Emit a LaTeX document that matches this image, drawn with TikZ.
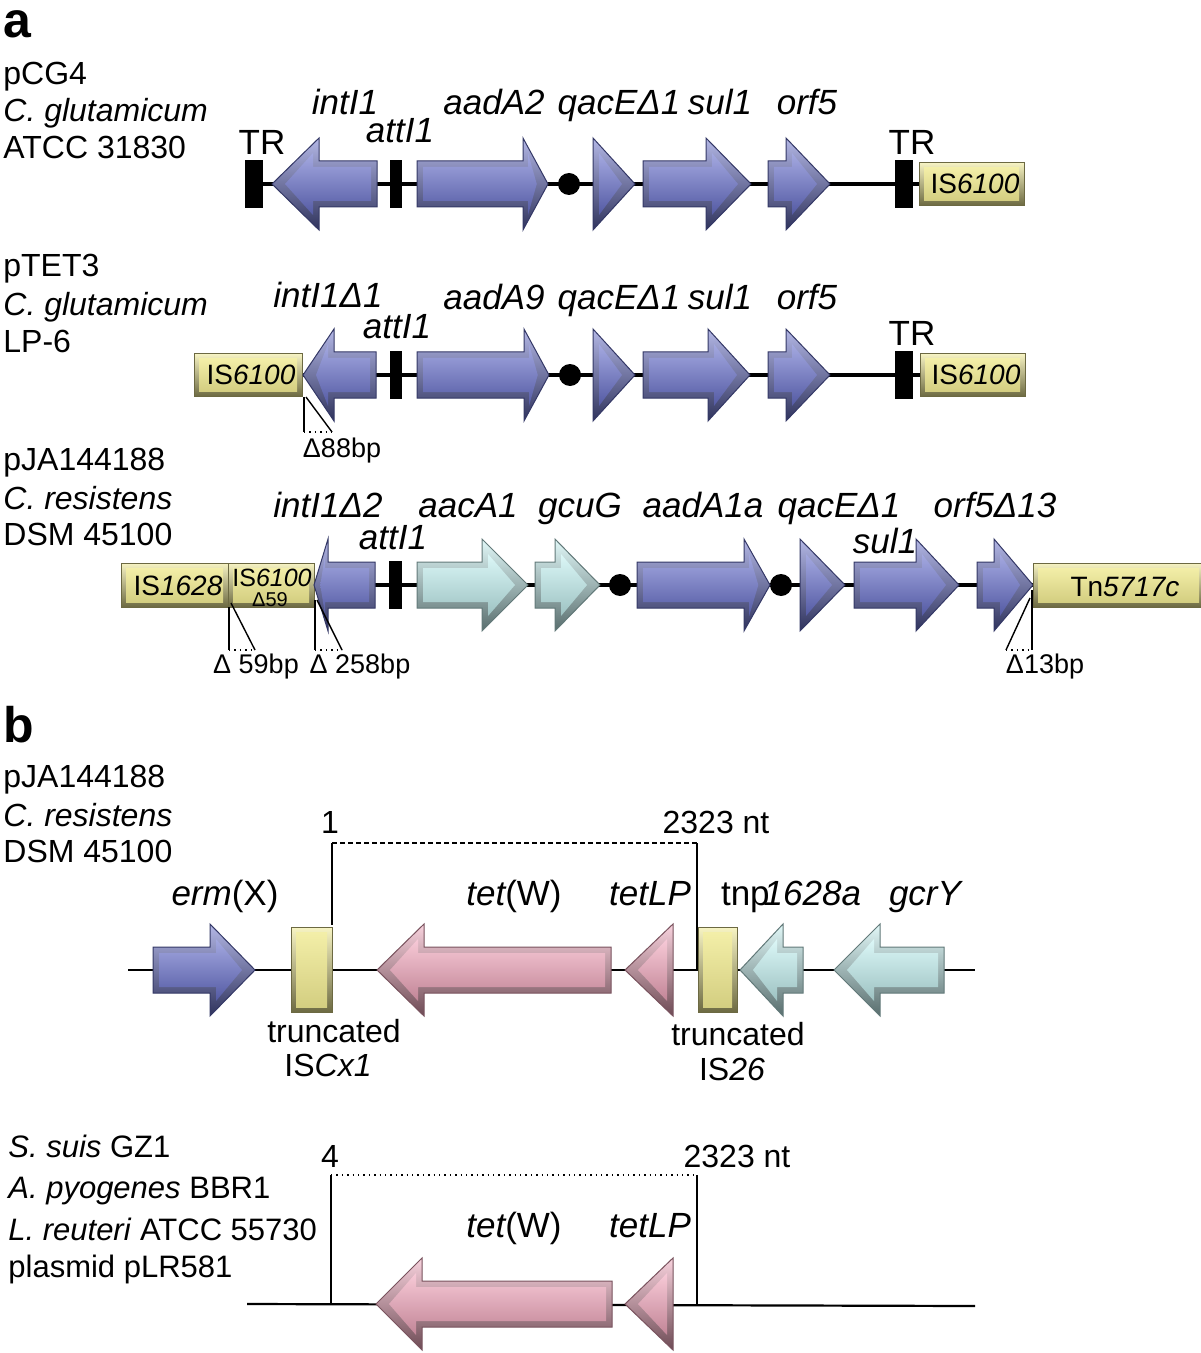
\documentclass[tikz,border=0pt]{standalone}
\usepackage{fontspec}
\setmainfont{Liberation Sans}

\definecolor{genblau}{RGB}{104,112,204}
\definecolor{gencyan}{RGB}{196,242,242}
\definecolor{genrosa}{RGB}{242,166,188}
\definecolor{isgelb}{RGB}{240,234,146}

\tikzstyle{txt}=[inner sep=0pt, anchor=base west, font=\fontsize{16}{19}\selectfont]
\tikzstyle{lbl}=[inner sep=0pt, anchor=base, font=\fontsize{17.5}{20}\selectfont]
\tikzstyle{genname}=[inner sep=0pt, anchor=base, font=\fontsize{17.5}{20}\selectfont\itshape]
\tikzstyle{klein}=[inner sep=0pt, anchor=base, font=\fontsize{13.5}{16}\selectfont]
\tikzstyle{istext}=[inner sep=0pt, anchor=base, font=\fontsize{14}{16}\selectfont]
\tikzstyle{rueckgrat}=[line width=2pt]
\tikzstyle{linie}=[line width=1.1pt]
\tikzstyle{strich}=[line width=0.7pt]

% Genpfeil: Anfang, Kopfansatz, Spitze, y, Farbe
\newcommand{\genpfeil}[5]{%
  \pgfmathsetmacro{\ri}{(#3>#1) ? 1 : -1}%
  \pgfmathsetmacro{\kl}{abs(#3-#2)}%
  \pgfmathsetmacro{\ts}{min(13,0.45*\kl)}%
  \pgfmathsetmacro{\bs}{min(6,0.2*\kl)}%
  \path[draw=#5!50!black, line width=0.5pt, top color=#5!50!white, bottom color=#5!45!black]
    (#1,#4-23) -- (#2,#4-23) -- (#2,#4-46) -- (#3,#4) -- (#2,#4+46) -- (#2,#4+23) -- (#1,#4+23) -- cycle;
  \path[top color=#5!60!white, middle color=#5, bottom color=#5!80!black]
    ({#1+6*\ri},#4-17) -- ({#2+\bs*\ri},#4-17) -- ({#2+\bs*\ri},#4-31) -- ({#3-\ts*\ri},#4)
    -- ({#2+\bs*\ri},#4+31) -- ({#2+\bs*\ri},#4+17) -- ({#1+6*\ri},#4+17) -- cycle;
}
% Kasten: links, rechts, y, halbe Hoehe, Farbe
\newcommand{\kasten}[5]{%
  \path[draw=#5!45!black, line width=0.5pt, top color=#5!55!white, bottom color=#5!45!black]
    (#1,#3-#4) rectangle (#2,#3+#4);
  \path[top color=#5!80!white, middle color=#5, bottom color=#5!88!black]
    (#1+5,#3-#4+5) rectangle (#2-5,#3+#4-5);
}
\newcommand{\balken}[3]{\fill (#1,#3-24) rectangle (#2,#3+24);}
\newcommand{\punkt}[2]{\fill (#1,#2) circle[radius=5.5pt];}

\begin{document}
\begin{tikzpicture}[x=0.5pt, y=-0.5pt]
	\useasboundingbox (0,0) rectangle (1200,1353);

	% Teil a
	\node[txt, font=\fontsize{25}{28}\selectfont\bfseries] (ta) at (3,38) {a};

	% Reihe pCG4
	\node[txt] (pcg) at (3,85) {pCG4};
	\node[txt] (pcgart) at (3,122) {\itshape C. glutamicum};
	\node[txt] (pcgstamm) at (3,159) {ATCC 31830};

	\coordinate (r1a) at (254,184);
	\coordinate (r1b) at (1000,184);
	\draw[rueckgrat] (r1a) -- (r1b);
	\balken{245}{263}{184}
	\genpfeil{377}{319}{272}{184}{genblau}
	\balken{390}{402}{184}
	\genpfeil{417}{523}{548}{184}{genblau}
	\punkt{569}{184}
	\genpfeil{593}{593}{635}{184}{genblau}
	\genpfeil{643}{706}{751}{184}{genblau}
	\genpfeil{768}{786}{830}{184}{genblau}
	\balken{895}{913}{184}
	\kasten{919}{1024}{184}{21.5}{isgelb}
	\node[istext] (is1) at (975,194) {IS\textit{6100}};

	\node[lbl] (tr1) at (262,155) {TR};
	\node[genname] (int1) at (345,115) {intI1};
	\node[genname] (att1) at (400,143) {attI1};
	\node[genname] (aad1) at (494,115) {aadA2};
	\node[genname] (qac1) at (619,115) {qacEΔ1};
	\node[genname] (sul1) at (720,115) {sul1};
	\node[genname] (orf1) at (807,115) {orf5};
	\node[lbl] (tr2) at (912,155) {TR};

	% Reihe pTET3
	\node[txt] (ptet) at (3,277) {pTET3};
	\node[txt] (ptetart) at (3,316) {\itshape C. glutamicum};
	\node[txt] (ptetstamm) at (3,352) {LP-6};

	\coordinate (r2a) at (300,375);
	\coordinate (r2b) at (921,375);
	\draw[rueckgrat] (r2a) -- (r2b);
	\kasten{194}{302}{375}{21.5}{isgelb}
	\node[istext] (is2) at (251,385) {IS\textit{6100}};
	\genpfeil{376}{334}{303}{375}{genblau}
	\balken{390}{402}{375}
	\genpfeil{417}{524}{549}{375}{genblau}
	\punkt{570}{375}
	\genpfeil{593}{593}{635}{375}{genblau}
	\genpfeil{643}{708}{750}{375}{genblau}
	\genpfeil{768}{786}{830}{375}{genblau}
	\balken{895}{913}{375}
	\kasten{920}{1025}{375}{21.5}{isgelb}
	\node[istext] (is3) at (976,385) {IS\textit{6100}};

	\node[genname] (int2) at (328,308) {intI1Δ1};
	\node[genname] (att2) at (397,338) {attI1};
	\node[genname] (aad2) at (494,310) {aadA9};
	\node[genname] (qac2) at (619,310) {qacEΔ1};
	\node[genname] (sul2) at (720,310) {sul1};
	\node[genname] (orf2) at (807,310) {orf5};
	\node[lbl] (tr3) at (912,345) {TR};

	\coordinate (d88a) at (304,397);
	\coordinate (d88b) at (304,432);
	\coordinate (d88c) at (306,397);
	\coordinate (d88d) at (332,432);
	\draw[strich] (d88a) -- (d88b);
	\draw[strich] (d88c) -- (d88d);
	\draw[strich, dotted] (d88b) -- (d88d);
	\node[klein] (d88) at (342,457) {Δ88bp};

	% Reihe pJA144188
	\node[txt] (pja) at (3,470) {pJA144188};
	\node[txt] (pjaart) at (3,509) {\itshape C. resistens};
	\node[txt] (pjastamm) at (3,545) {DSM 45100};

	\coordinate (r3a) at (228,585);
	\coordinate (r3b) at (1034,585);
	\draw[rueckgrat] (r3a) -- (r3b);
	\kasten{121}{228}{585}{22}{isgelb}
	\node[istext] (is4) at (178,595) {IS\textit{1628}};
	\kasten{228}{314}{585}{22}{isgelb}
	\node[inner sep=0pt, anchor=base, font=\fontsize{12.5}{14}\selectfont] (is5) at (272,586) {IS\textit{6100}};
	\node[inner sep=0pt, anchor=base, font=\fontsize{10}{12}\selectfont] (is5d) at (270,606) {Δ59};
	\genpfeil{375}{328}{314}{585}{genblau}
	\balken{389}{402}{585}
	\genpfeil{417}{482}{528}{585}{gencyan}
	\genpfeil{535}{555}{600}{585}{gencyan}
	\punkt{620}{585}
	\punkt{781}{585}
	\genpfeil{637}{744}{770}{585}{genblau}
	\genpfeil{800}{800}{845}{585}{genblau}
	\genpfeil{854}{916}{959}{585}{genblau}
	\genpfeil{977}{994}{1033}{585}{genblau}
	\kasten{1033}{1204}{585}{22}{isgelb}
	\node[istext] (tn) at (1125,596) {Tn\textit{5717c}};

	\node[genname] (int3) at (328,517) {intI1Δ2};
	\node[genname] (att3) at (393,549) {attI1};
	\node[genname] (aac3) at (468,517) {aacA1};
	\node[genname] (gcu3) at (580,517) {gcuG};
	\node[genname] (aad3) at (703,517) {aadA1a};
	\node[genname] (qac3) at (839,517) {qacEΔ1};
	\node[genname] (sul3) at (885,553) {sul1};
	\node[genname] (orf3) at (995,517) {orf5Δ13};

	\coordinate (d59a) at (229,607);
	\coordinate (d59b) at (229,650);
	\coordinate (d59c) at (231,603);
	\coordinate (d59d) at (255,650);
	\draw[strich] (d59a) -- (d59b);
	\draw[strich] (d59c) -- (d59d);
	\draw[strich, dotted] (d59b) -- (d59d);
	\node[klein] (d59) at (256,673) {Δ 59bp};

	\coordinate (d258a) at (315,600);
	\coordinate (d258b) at (315,650);
	\coordinate (d258c) at (317,600);
	\coordinate (d258d) at (342,650);
	\draw[strich] (d258a) -- (d258b);
	\draw[strich] (d258c) -- (d258d);
	\draw[strich, dotted] (d258b) -- (d258d);
	\node[klein] (d258) at (360,673) {Δ 258bp};

	\coordinate (d13a) at (1032,590);
	\coordinate (d13b) at (1032,650);
	\coordinate (d13c) at (1030,598);
	\coordinate (d13d) at (1006,650);
	\draw[strich] (d13a) -- (d13b);
	\draw[strich] (d13c) -- (d13d);
	\draw[strich, dotted] (d13d) -- (d13b);
	\node[klein] (d13) at (1045,673) {Δ13bp};

	% Teil b
	\node[txt, font=\fontsize{25}{28}\selectfont\bfseries] (tb) at (3,742) {b};
	\node[txt] (pjb) at (3,787) {pJA144188};
	\node[txt] (pjbart) at (3,826) {\itshape C. resistens};
	\node[txt] (pjbstamm) at (3,862) {DSM 45100};

	\node[txt, anchor=base] (n1) at (330,833) {1};
	\node[txt, anchor=base] (n2323) at (716,833) {2323 nt};
	\coordinate (o1) at (332,843);
	\coordinate (o2) at (697,843);
	\coordinate (u1) at (332,925);
	\coordinate (u2) at (697,970);
	\draw[strich, dash pattern=on 2.5pt off 1.5pt] (o1) -- (o2);
	\draw[linie, line width=0.9pt] (o1) -- (u1);
	\draw[linie, line width=0.9pt] (o2) -- (u2);

	\coordinate (r4a) at (128,970);
	\coordinate (r4b) at (975,970);
	\draw[linie] (r4a) -- (r4b);
	\genpfeil{153}{210}{255}{970}{genblau}
	\kasten{291}{332}{970}{42.5}{isgelb}
	\genpfeil{611}{424}{377}{970}{genrosa}
	\genpfeil{673}{673}{625}{970}{genrosa}
	\kasten{698}{737}{970}{42.5}{isgelb}
	\genpfeil{803}{783}{740}{970}{gencyan}
	\genpfeil{944}{880}{834}{970}{gencyan}

	\node[genname] (erm) at (225,905) {erm\upshape(X)};
	\node[genname] (tetw) at (514,905) {tet\upshape(W)};
	\node[genname] (tetlp) at (650,905) {tetLP};
	\node[lbl] (tnp) at (791,905) {tnp\kern-3pt\textit{1628a}};
	\node[genname] (gcr) at (925,905) {gcrY};
	\node[txt, anchor=base] (trunc1) at (334,1042) {truncated};
	\node[txt, anchor=base] (iscx) at (328,1076) {IS\textit{Cx1}};
	\node[txt, anchor=base] (trunc2) at (738,1045) {truncated};
	\node[txt, anchor=base] (is26) at (732,1080) {IS\textit{26}};

	% Vergleich
	\node[txt, font=\fontsize{15.5}{18}\selectfont] (ssuis) at (8,1157) {\textit{S. suis} GZ1};
	\node[txt, font=\fontsize{15.5}{18}\selectfont] (apyo) at (8,1198) {\textit{A. pyogenes} BBR1};
	\node[txt, font=\fontsize{15.5}{18}\selectfont] (lreu) at (8,1240) {\textit{L. reuteri} ATCC 55730};
	\node[txt, font=\fontsize{15.5}{18}\selectfont] (plr) at (8,1277) {plasmid pLR581};

	\node[txt, anchor=base] (n4) at (330,1167) {4};
	\node[txt, anchor=base] (n2323b) at (737,1167) {2323 nt};
	\coordinate (o3) at (331,1175);
	\coordinate (o4) at (697,1175);
	\coordinate (u3) at (331,1304);
	\coordinate (u4) at (697,1304);
	\draw[strich, dotted] (o3) -- (o4);
	\draw[linie, line width=0.9pt] (o3) -- (u3);
	\draw[linie, line width=0.9pt] (o4) -- (u4);

	\coordinate (r5a) at (247,1304);
	\coordinate (r5b) at (975,1306);
	\draw[linie] (r5a) -- (r5b);
	\genpfeil{612}{422}{376}{1304}{genrosa}
	\genpfeil{673}{673}{625}{1304}{genrosa}
	\node[genname] (tetw2) at (514,1237) {tet\upshape(W)};
	\node[genname] (tetlp2) at (650,1237) {tetLP};

\end{tikzpicture}
\end{document}
